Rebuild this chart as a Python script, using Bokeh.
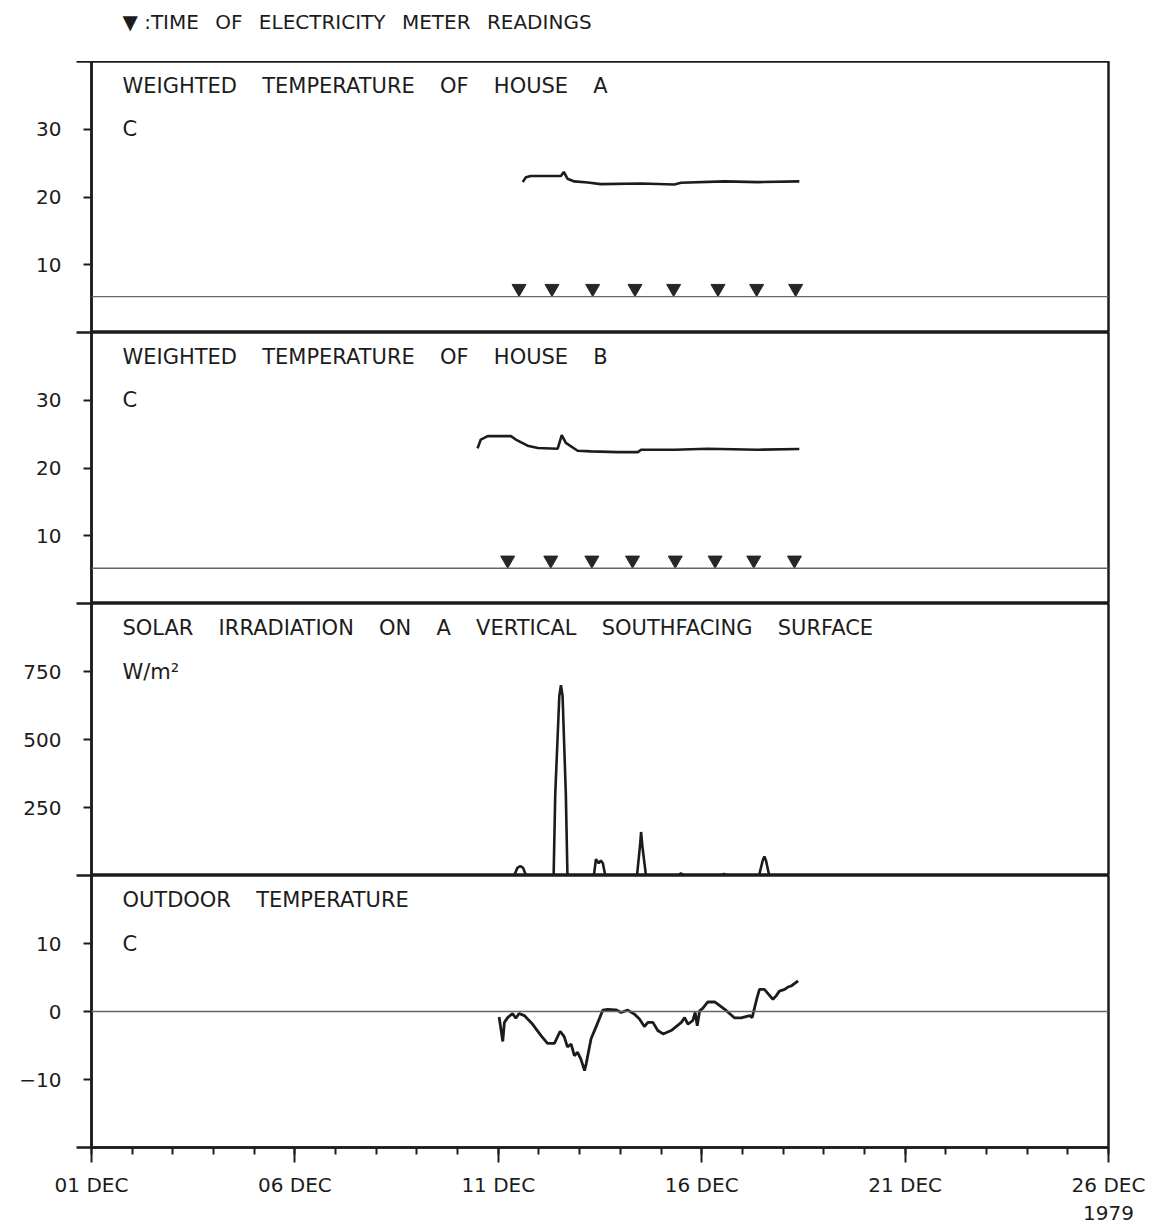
from bokeh.plotting import figure
from bokeh.layouts import column
from bokeh.models import FixedTicker, Label, Span
from bokeh.embed import file_html
from bokeh.resources import INLINE

# ---------------- data (day of December 1979, fractional) ----------------
house_a_day = [11.60, 11.68, 11.80, 12.54, 12.61, 12.70, 12.87, 13.20, 13.52,
               14.51, 15.33, 15.49, 16.56, 17.38, 18.40]
house_a_temp = [22.2, 22.9, 23.1, 23.1, 23.7, 22.7, 22.3, 22.15, 21.9,
                22.0, 21.85, 22.1, 22.3, 22.2, 22.3]

house_b_day = [10.49, 10.57, 10.74, 11.31, 11.43, 11.72, 11.97, 12.46, 12.56,
               12.66, 12.95, 13.28, 13.94, 14.43, 14.51, 15.33, 16.15, 17.38, 18.40]
house_b_temp = [22.9, 24.2, 24.7, 24.7, 24.2, 23.3, 22.95, 22.85, 24.85,
                23.7, 22.55, 22.45, 22.35, 22.35, 22.7, 22.7, 22.85, 22.7, 22.8]

solar_day = [11.01, 11.39, 11.47, 11.54, 11.61, 11.68, 12.36, 12.40, 12.50, 12.54, 12.58,
             12.66, 12.70, 13.35, 13.40, 13.47, 13.52, 13.57, 13.63, 14.41, 14.49, 14.51,
             14.54, 14.63, 15.42, 15.49, 15.57, 16.48, 16.55, 16.62, 17.41, 17.50,
             17.54, 17.58, 17.66, 18.50]
solar_wm2 = [0, 0, 28, 35, 28, 0, 0, 300, 660, 700, 660,
             300, 0, 0, 60, 45, 55, 45, 0, 0, 120, 160,
             110, 0, 0, 8, 0, 0, 6, 0, 0, 55,
             70, 55, 0, 0]

outdoor_day = [11.02, 11.11, 11.15, 11.23, 11.35, 11.43, 11.51, 11.64, 11.84, 12.05,
               12.21, 12.38, 12.52, 12.62, 12.70, 12.79, 12.87, 12.95, 13.03, 13.12,
               13.16, 13.28, 13.40, 13.57, 13.69, 13.89, 14.02, 14.18, 14.35, 14.47,
               14.59, 14.68, 14.80, 14.92, 15.05, 15.25, 15.50, 15.58, 15.66, 15.78,
               15.84, 15.89, 15.95, 16.03, 16.15, 16.32, 16.56, 16.81, 16.97, 17.18,
               17.24, 17.36, 17.42, 17.54, 17.75, 17.83, 17.91, 18.04, 18.12, 18.20,
               18.37]
outdoor_temp = [-0.8, -4.4, -1.6, -0.9, -0.3, -1.0, -0.3, -0.6, -1.85, -3.55,
                -4.7, -4.7, -2.9, -3.7, -5.2, -4.8, -6.5, -6.0, -7.0, -8.7,
                -7.7, -4.0, -2.3, 0.2, 0.3, 0.25, -0.15, 0.2, -0.4, -1.1,
                -2.2, -1.6, -1.6, -2.8, -3.3, -2.8, -1.6, -0.9, -1.85, -1.35,
                -0.15, -2.1, 0.1, 0.5, 1.4, 1.4, 0.35, -0.95, -0.95, -0.6,
                -0.9, 2.0, 3.25, 3.25, 1.8, 2.3, 3.0, 3.25, 3.6, 3.75,
                4.5]

meter_readings_a = [11.51, 12.32, 13.32, 14.36, 15.31, 16.40, 17.35, 18.31]
meter_readings_b = [11.23, 12.29, 13.30, 14.30, 15.35, 16.33, 17.28, 18.28]

x_tick_days = [1, 6, 11, 16, 21, 26]
x_tick_labels = ["01 DEC", "06 DEC", "11 DEC", "16 DEC", "21 DEC", "26 DEC\n1979"]

temp_ticks = [10, 20, 30]
solar_ticks = [250, 500, 750]
outdoor_ticks = [-10, 0, 10]

header_text = "\u25BC :TIME\u2002 OF\u2002 ELECTRICITY\u2002 METER\u2002 READINGS"
GAP = "\u2003\u2009"
panel_titles = [
    GAP.join(["WEIGHTED", "TEMPERATURE", "OF", "HOUSE", "A"]),
    GAP.join(["WEIGHTED", "TEMPERATURE", "OF", "HOUSE", "B"]),
    GAP.join(["SOLAR", "IRRADIATION", "ON", "A", "VERTICAL", "SOUTHFACING", "SURFACE"]),
    GAP.join(["OUTDOOR", "TEMPERATURE"]),
]
panel_units = ["C", "C", "W/m\u00B2", "C"]

# ---------------- styling ----------------
FONT = "DejaVu Sans"
INK = "#1c1c1c"
W = 1161
LEFT, RIGHT = 91, 53
HEADER_H = 61


def make_panel(y0, y1, ticks, frame_h, title, unit, bottom=0, show_x=False):
    p = figure(width=W, height=frame_h + bottom,
               x_range=(1, 26), y_range=(y0, y1),
               output_backend="svg", toolbar_location=None,
               x_axis_location="below" if show_x else None,
               min_border_left=LEFT, min_border_right=RIGHT,
               min_border_top=0, min_border_bottom=bottom)
    p.grid.visible = False
    p.outline_line_color = INK
    p.outline_line_width = 2.5
    p.background_fill_color = "white"
    p.border_fill_color = "white"

    ax = p.yaxis[0]
    ax.ticker = FixedTicker(ticks=ticks, minor_ticks=[y0, y1])
    ax.axis_line_color = INK
    ax.axis_line_width = 2.5
    ax.major_tick_in = 0
    ax.major_tick_out = 8
    ax.major_tick_line_width = 2
    ax.major_tick_line_color = INK
    ax.minor_tick_in = 0
    ax.minor_tick_out = 15
    ax.minor_tick_line_width = 2.5
    ax.minor_tick_line_color = INK
    ax.major_label_text_font = FONT
    ax.major_label_text_font_size = "20px"
    ax.major_label_text_color = INK
    ax.major_label_standoff = 15

    span = y1 - y0
    x_text = 1.76
    p.add_layout(Label(x=x_text, y=y1 - 24.0 / frame_h * span, text=title,
                       text_font=FONT, text_font_size="21px", text_color=INK,
                       text_baseline="middle", text_align="left"))
    p.add_layout(Label(x=x_text, y=ticks[-1], text=unit,
                       text_font=FONT, text_font_size="21px", text_color=INK,
                       text_baseline="middle", text_align="left"))
    return p


# Header strip (legend for the triangles)
ph = figure(width=W, height=HEADER_H, x_range=(1, 26), y_range=(0, HEADER_H),
            output_backend="svg", toolbar_location=None,
            x_axis_location=None, y_axis_location=None,
            min_border_left=LEFT, min_border_right=RIGHT,
            min_border_top=0, min_border_bottom=0)
ph.grid.visible = False
ph.outline_line_color = None
ph.border_fill_color = "white"
ph.add_layout(Label(x=1.76, y=HEADER_H - 21, text=header_text,
                    text_font=FONT, text_font_size="20px", text_color=INK,
                    text_baseline="middle", text_align="left"))

# Panel A
pA = make_panel(0, 40, temp_ticks, 271, panel_titles[0], panel_units[0])
base_a = 5.3
pA.add_layout(Span(location=base_a, dimension="width", line_color="#666", line_width=1.3))
pA.line(house_a_day, house_a_temp, line_color=INK, line_width=2.6)
pA.scatter(meter_readings_a, [base_a + 1.2] * len(meter_readings_a),
           marker="inverted_triangle", size=14, color="#262626")

# Panel B
pB = make_panel(0, 40, temp_ticks, 271, panel_titles[1], panel_units[1])
base_b = 5.2
pB.add_layout(Span(location=base_b, dimension="width", line_color="#666", line_width=1.3))
pB.line(house_b_day, house_b_temp, line_color=INK, line_width=2.6)
pB.scatter(meter_readings_b, [base_b + 1.2] * len(meter_readings_b),
           marker="inverted_triangle", size=14, color="#262626")

# Panel C
pC = make_panel(0, 1000, solar_ticks, 272, panel_titles[2], panel_units[2])
pC.line(solar_day, solar_wm2, line_color=INK, line_width=2.6)

# Panel D
pD = make_panel(-20, 20, outdoor_ticks, 272, panel_titles[3], panel_units[3],
                bottom=84, show_x=True)
pD.add_layout(Span(location=0, dimension="width", line_color="#666", line_width=1.3))
pD.line(outdoor_day, outdoor_temp, line_color=INK, line_width=2.8)

xa = pD.xaxis[0]
xa.ticker = FixedTicker(ticks=x_tick_days, minor_ticks=list(range(1, 27)))
xa.major_label_overrides = {d: lab for d, lab in zip(x_tick_days, x_tick_labels)}
xa.axis_line_color = INK
xa.axis_line_width = 2.5
xa.major_tick_in = 0
xa.major_tick_out = 15
xa.major_tick_line_width = 2
xa.major_tick_line_color = INK
xa.minor_tick_in = 0
xa.minor_tick_out = 7
xa.minor_tick_line_width = 2
xa.minor_tick_line_color = INK
xa.major_label_text_font = FONT
xa.major_label_text_font_size = "20px"
xa.major_label_text_color = INK
xa.major_label_standoff = 10

layout = column(ph, pA, pB, pC, pD, spacing=0)

with open("out.html", "w") as f:
    f.write(file_html(layout, INLINE))
